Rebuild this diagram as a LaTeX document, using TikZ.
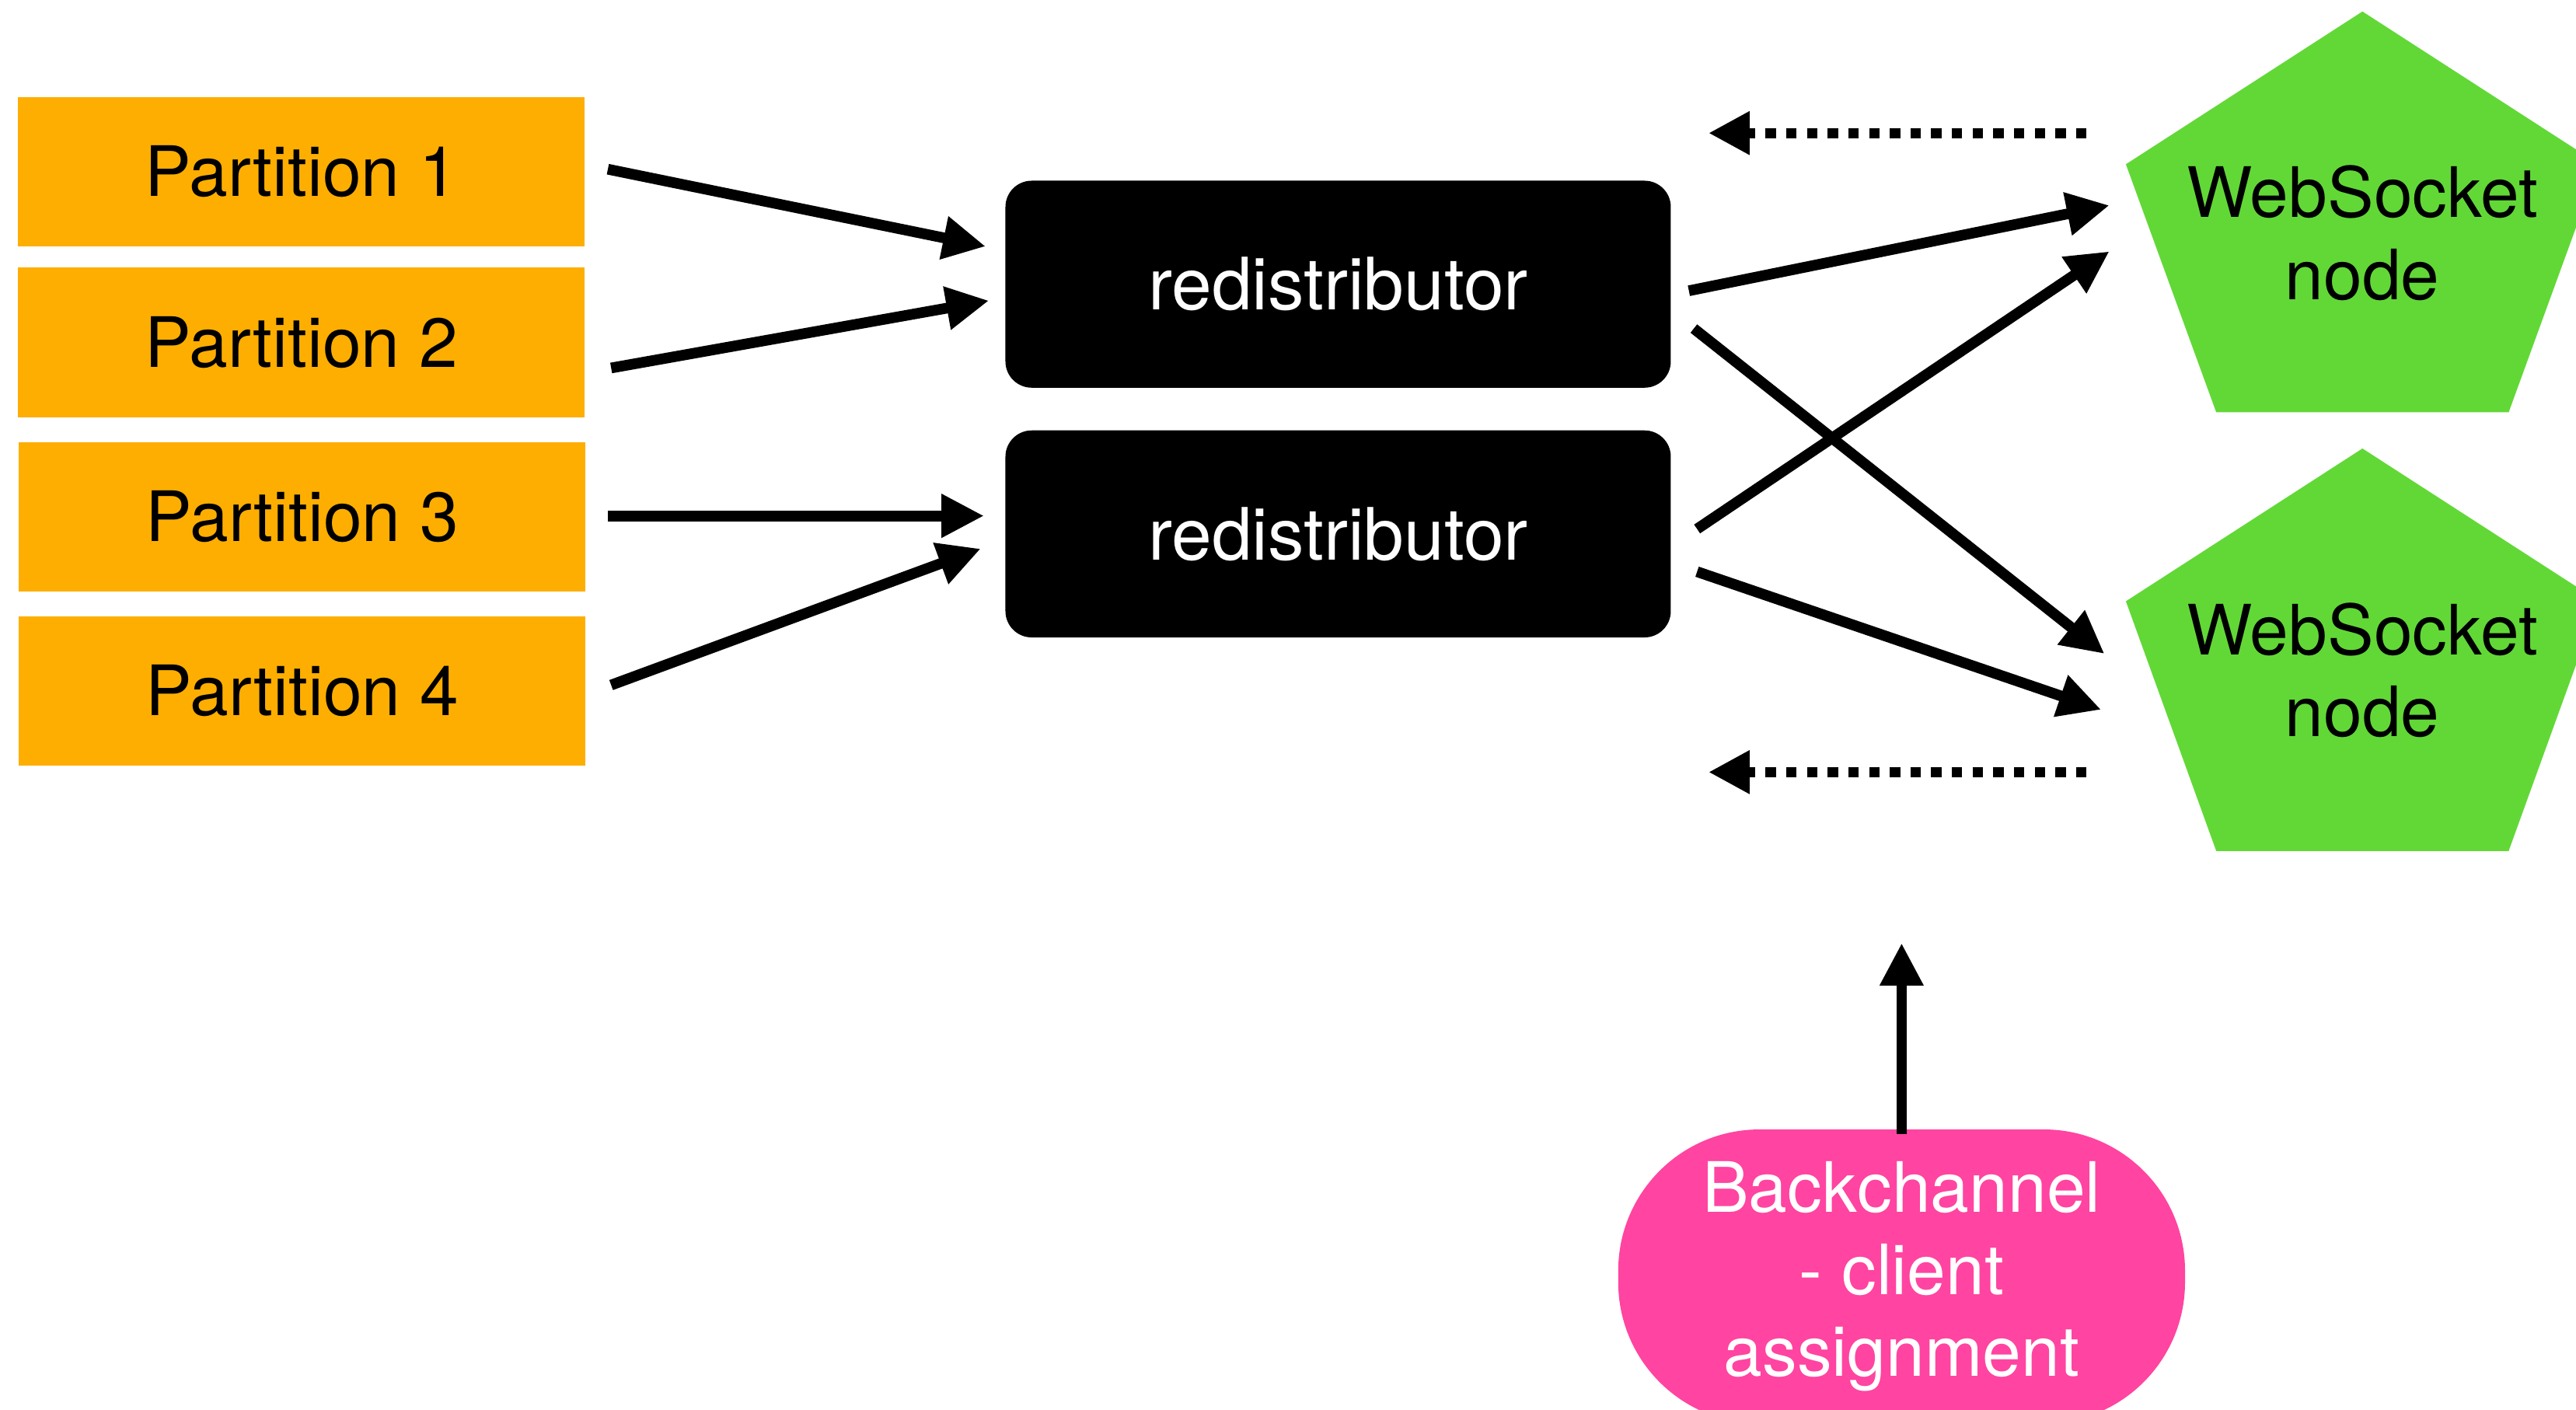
\documentclass[tikz,border=0pt]{standalone}
\usepackage{fontspec}
\setmainfont{TeX Gyre Heros}
\usetikzlibrary{arrows.meta}
\definecolor{partorange}{RGB}{254,174,0}
\definecolor{wsgreen}{RGB}{98,216,55}
\definecolor{bcpink}{RGB}{255,68,161}
\begin{document}
\begin{tikzpicture}[x=1pt,y=-1pt,
  every node/.style={font=\fontsize{42.3}{50}\selectfont},
  partbox/.style={fill=partorange, minimum width=345pt, minimum height=91pt, inner sep=0pt},
  redbox/.style={fill=black, text=white, rounded corners=16pt, minimum width=405pt, minimum height=126pt, inner sep=0pt, font=\fontsize{44}{50}\selectfont},
  wsshape/.style={fill=wsgreen},
  wslabel/.style={align=center, inner sep=0pt},
  bcbox/.style={fill=bcpink, text=white, rounded corners=86pt, minimum width=345pt, minimum height=179pt, inner sep=0pt, align=center},
  arr/.style={line width=6.5pt, -{Triangle[length=26pt,width=25pt]}},
  backarr/.style={line width=6pt, dash pattern=on 6.3pt off 6.3pt, -{Triangle[length=25pt,width=25pt]}},
]
\path[use as bounding box, clip] (0,0) rectangle (1568,858);

% partitions
\node[partbox] (p1) at (183.5,104.5) {Partition 1};
\node[partbox] (p2) at (183.5,208.5) {Partition 2};
\node[partbox] (p3) at (184,314.5) {Partition 3};
\node[partbox] (p4) at (184,420.5) {Partition 4};

% redistributors
\node[redbox] (r1) at (814.5,173) {redistributor};
\node[redbox] (r2) at (814.5,325) {redistributor};

% websocket nodes
\fill[wsshape] (1438,7) -- (1294,100) -- (1349,251) -- (1527,251) -- (1582,100) -- cycle;
\node[wslabel] (w1) at (1438,142) {WebSocket\\node};
\fill[wsshape] (1438,273) -- (1294,366) -- (1349,518) -- (1527,518) -- (1582,366) -- cycle;
\node[wslabel] (w2) at (1438,408) {WebSocket\\node};

% backchannel
\node[bcbox] (bc) at (1157.5,777) {Backchannel\\- client\\assignment};

% connector end points
\coordinate (a1s) at (370,103);  \coordinate (a1e) at (600,150);
\coordinate (a2s) at (372,224);  \coordinate (a2e) at (602,183);
\coordinate (a3s) at (370,314);  \coordinate (a3e) at (599,314);
\coordinate (a4s) at (372,417);  \coordinate (a4e) at (597,334);
\coordinate (b1s) at (1028,177); \coordinate (b1e) at (1284,125);
\coordinate (b2s) at (1031,200); \coordinate (b2e) at (1281,398);
\coordinate (b3s) at (1033,322); \coordinate (b3e) at (1284,153);
\coordinate (b4s) at (1033,348); \coordinate (b4e) at (1279,432);
\coordinate (d1s) at (1270,81);  \coordinate (d1e) at (1040,81);
\coordinate (d2s) at (1270,470); \coordinate (d2e) at (1040,470);
\coordinate (bce) at (1157.5,574);

\draw[arr] (a1s) -- (a1e);
\draw[arr] (a2s) -- (a2e);
\draw[arr] (a3s) -- (a3e);
\draw[arr] (a4s) -- (a4e);
\draw[arr] (b1s) -- (b1e);
\draw[arr] (b2s) -- (b2e);
\draw[arr] (b3s) -- (b3e);
\draw[arr] (b4s) -- (b4e);
\draw[backarr] (d1s) -- (d1e);
\draw[backarr] (d2s) -- (d2e);
\draw[arr] ([yshift=-3pt]bc.north) -- (bce);
\end{tikzpicture}
\end{document}
